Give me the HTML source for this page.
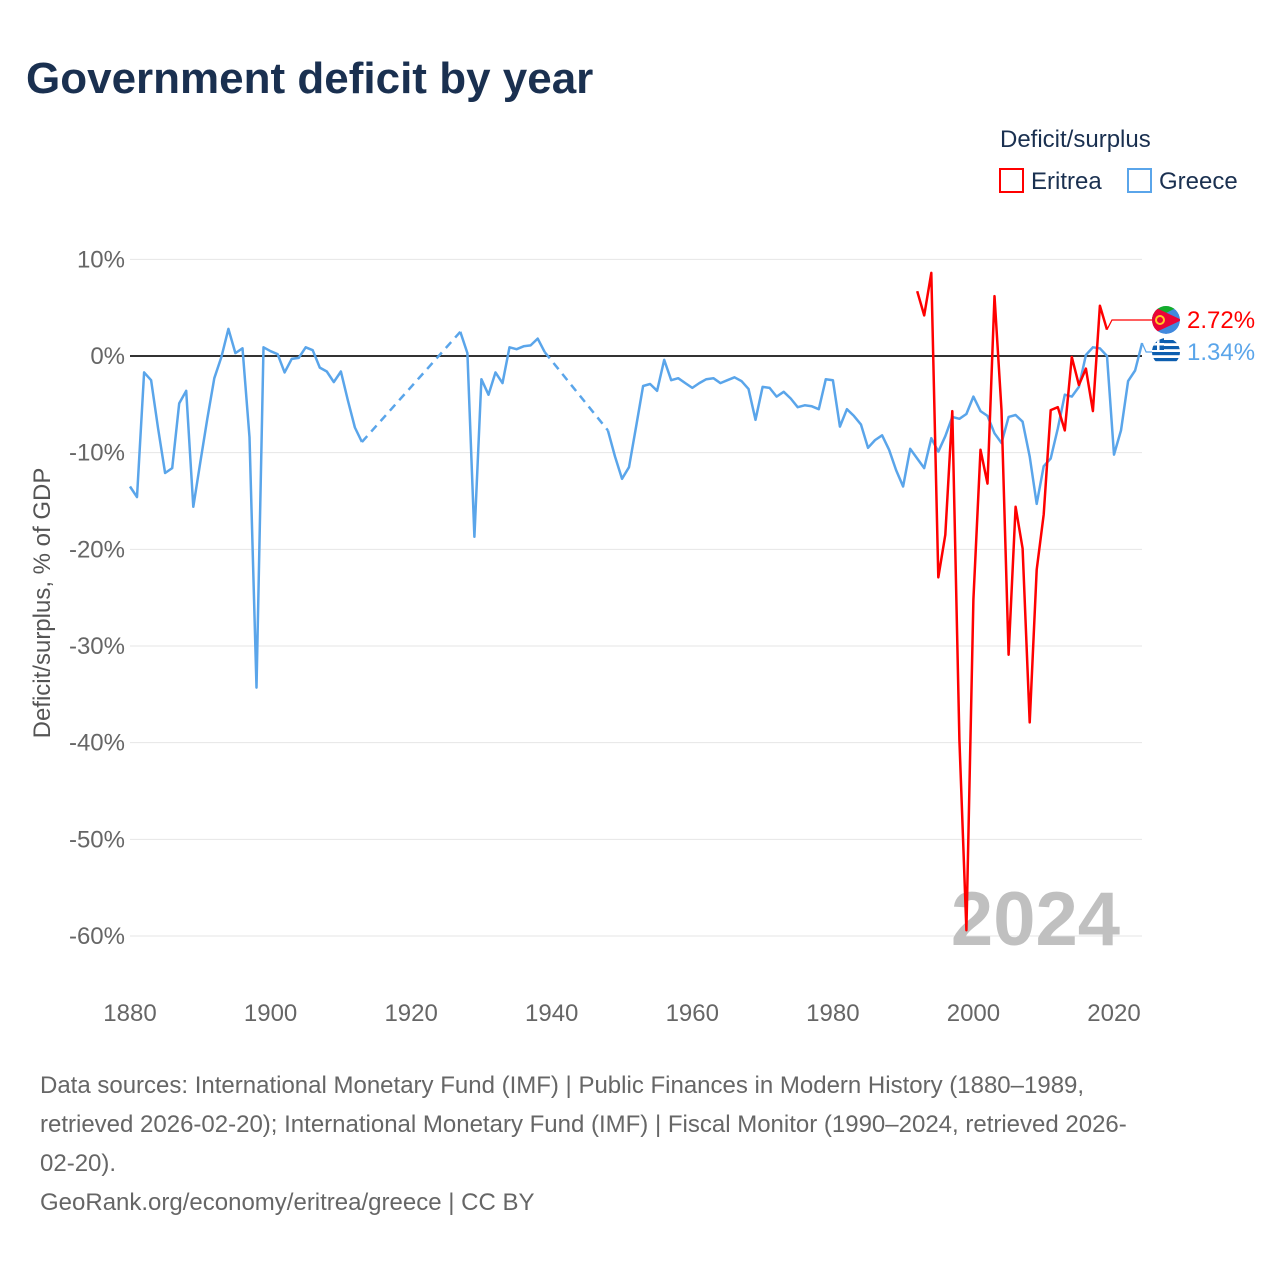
<!DOCTYPE html>
<html><head><meta charset="utf-8">
<style>
body{margin:0;background:#fff;font-family:"Liberation Sans",sans-serif;}
#wrap{position:relative;width:1280px;height:1280px;overflow:hidden;}
</style></head>
<body>
<div id="wrap">
<svg id="chart" width="1280" height="1280" xmlns="http://www.w3.org/2000/svg">
  <defs>
    <clipPath id="clipE"><circle cx="1166" cy="320" r="14"/></clipPath>
    <clipPath id="clipG"><circle cx="1166" cy="352" r="14"/></clipPath>
  </defs>
  <text x="26" y="93" font-size="44" font-weight="bold" fill="#1a3050" font-family="Liberation Sans, sans-serif">Government deficit by year</text>
  <text x="1000" y="147" font-size="24" fill="#1a3050">Deficit/surplus</text>
  <g>
    <rect x="1000" y="169" width="23" height="23" fill="none" stroke="#ff0000" stroke-width="2"/>
    <text x="1031" y="189" font-size="24" fill="#1a3050">Eritrea</text>
  </g>
  <g>
    <rect x="1128" y="169" width="23" height="23" fill="none" stroke="#5aa5ea" stroke-width="2"/>
    <text x="1159" y="189" font-size="24" fill="#1a3050">Greece</text>
  </g>
  <g id="grid"></g>
  <g id="xaxis"></g>
  <text transform="translate(50,603) rotate(-90)" text-anchor="middle" font-size="24" fill="#555">Deficit/surplus, % of GDP</text>
  <text x="1120" y="945" text-anchor="end" font-size="76" font-weight="bold" fill="#c0c0c0">2024</text>
  <g id="series"></g>
  <g id="labels"></g>
  <text font-size="24" fill="#666">
    <tspan x="40" y="1093">Data sources: International Monetary Fund (IMF) | Public Finances in Modern History (1880–1989,</tspan>
    <tspan x="40" y="1132">retrieved 2026-02-20); International Monetary Fund (IMF) | Fiscal Monitor (1990–2024, retrieved 2026-</tspan>
    <tspan x="40" y="1171">02-20).</tspan>
    <tspan x="40" y="1210">GeoRank.org/economy/eritrea/greece | CC BY</tspan>
  </text>
</svg>
</div>
<script>
const greeceYears1 = [1880,1881,1882,1883,1884,1885,1886,1887,1888,1889,1890,1891,1892,1893,1894,1895,1896,1897,1898,1899,1900,1901,1902,1903,1904,1905,1906,1907,1908,1909,1910,1911,1912,1913];
const greeceValues1 = [-13.5,-14.6,-1.7,-2.5,-7.5,-12.1,-11.6,-4.9,-3.6,-15.6,-11,-6.5,-2.3,-0.1,2.8,0.3,0.8,-8.4,-34.3,0.9,0.5,0.2,-1.7,-0.3,-0.2,0.9,0.6,-1.2,-1.6,-2.7,-1.6,-4.6,-7.4,-8.9];
const greeceYears2 = [1927,1928,1929,1930,1931,1932,1933,1934,1935,1936,1937,1938,1939];
const greeceValues2 = [2.5,0.3,-18.7,-2.4,-4.0,-1.7,-2.8,0.9,0.7,1.0,1.1,1.8,0.4];
const greeceYears3 = [1948,1949,1950,1951,1952,1953,1954,1955,1956,1957,1958,1959,1960,1961,1962,1963,1964,1965,1966,1967,1968,1969,1970,1971,1972,1973,1974,1975,1976,1977,1978,1979,1980,1981,1982,1983,1984,1985,1986,1987,1988,1989,1990,1991,1992,1993,1994,1995,1996,1997,1998,1999,2000,2001,2002,2003,2004,2005,2006,2007,2008,2009,2010,2011,2012,2013,2014,2015,2016,2017,2018,2019,2020,2021,2022,2023,2024];
const greeceValues3 = [-7.7,-10.4,-12.7,-11.5,-7.3,-3.1,-2.9,-3.6,-0.4,-2.5,-2.3,-2.8,-3.3,-2.8,-2.4,-2.3,-2.8,-2.5,-2.2,-2.6,-3.4,-6.6,-3.2,-3.3,-4.2,-3.7,-4.4,-5.3,-5.1,-5.2,-5.5,-2.4,-2.5,-7.3,-5.5,-6.2,-7.1,-9.5,-8.7,-8.2,-9.7,-11.8,-13.5,-9.6,-10.6,-11.6,-8.5,-9.9,-8.3,-6.3,-6.5,-6.0,-4.2,-5.7,-6.2,-8.0,-9.0,-6.3,-6.1,-6.8,-10.4,-15.3,-11.4,-10.6,-7.5,-4.0,-4.2,-3.2,0.1,0.9,0.8,0.0,-10.2,-7.7,-2.6,-1.5,1.34];
const eritreaYears = [1992,1993,1994,1995,1996,1997,1998,1999,2000,2001,2002,2003,2004,2005,2006,2007,2008,2009,2010,2011,2012,2013,2014,2015,2016,2017,2018,2019];
const eritreaValues = [6.7,4.2,8.6,-22.9,-18.5,-5.7,-39.7,-59.4,-25.2,-9.7,-13.2,6.2,-5.6,-30.9,-15.6,-19.9,-37.9,-22.1,-16.4,-5.6,-5.3,-7.7,-0.1,-3.0,-1.3,-5.7,5.2,2.72];
const yTicks = [10,0,-10,-20,-30,-40,-50,-60];
const xTicks = [1880,1900,1920,1940,1960,1980,2000,2020];

const NS="http://www.w3.org/2000/svg";
const X0=130,X1=1142;
function xs(yr){return 130+(yr-1880)*(984/140);}
function ys(v){return 356-v*9.667;}
function mk(tag,attrs,parent){const e=document.createElementNS(NS,tag);for(const k in attrs)e.setAttribute(k,attrs[k]);parent.appendChild(e);return e;}
const grid=document.getElementById('grid'),xa=document.getElementById('xaxis'),ser=document.getElementById('series'),lab=document.getElementById('labels');
yTicks.forEach(t=>{
  const l=mk('line',{x1:X0,x2:X1,y1:ys(t),y2:ys(t),stroke:t===0?'#333':'#e6e6e6','stroke-width':t===0?2:1},grid);
  
  
  const tx=mk('text',{x:125,y:ys(t)+8,'text-anchor':'end','font-size':24,fill:'#666'},grid);
  tx.textContent=t+'%';
  
  
});
xTicks.forEach(t=>{
  const tx=mk('text',{x:xs(t),y:1021,'text-anchor':'middle','font-size':24,fill:'#666'},xa);
  tx.textContent=t;
  
  
});
function pts(yrs,vals){return yrs.map((y,i)=>xs(y).toFixed(1)+','+ys(vals[i]).toFixed(1)).join(' ');}
function line(yrs,vals,color,name,dash){
  const p=mk('polyline',{points:pts(yrs,vals),fill:'none',stroke:color,'stroke-width':2.5,'stroke-linejoin':'round'},ser);
  if(dash)p.setAttribute('stroke-dasharray','8,6');
  
  
}
const gC='#5aa5ea',eC='#ff0000';
line(greeceYears1,greeceValues1,gC,'greece-line');
line([greeceYears1[greeceYears1.length-1],greeceYears2[0]],[greeceValues1[greeceValues1.length-1],greeceValues2[0]],gC,'greece-gap-line',true);
line(greeceYears2,greeceValues2,gC,'greece-line');
line([greeceYears2[greeceYears2.length-1],greeceYears3[0]],[greeceValues2[greeceValues2.length-1],greeceValues3[0]],gC,'greece-gap-line',true);
line(greeceYears3,greeceValues3,gC,'greece-line');
line(eritreaYears,eritreaValues,eC,'eritrea-line');

const eLast=eritreaValues[eritreaValues.length-1],eX=xs(eritreaYears[eritreaYears.length-1]);
const gLast=greeceValues3[greeceValues3.length-1],gX=xs(greeceYears3[greeceYears3.length-1]);
const eY=320,gY=352;
let c=mk('polyline',{points:`${eX},${ys(eLast)} ${eX+5},${eY} 1152,${eY}`,fill:'none',stroke:eC,'stroke-width':1.2},lab);

c=mk('polyline',{points:`${gX},${ys(gLast)} ${gX+4},${gY} 1152,${gY}`,fill:'none',stroke:gC,'stroke-width':1.2},lab);

const ef=mk('g',{'clip-path':'url(#clipE)'},lab);

mk('circle',{cx:1166,cy:eY,r:14,fill:'#4189dd'},ef);
mk('path',{d:`M1152,${eY} L1180,${eY-14} L1152,${eY-14} Z`,fill:'#12ad2b'},ef);
mk('path',{d:`M1152,${eY-14} L1182,${eY} L1152,${eY+14} Z`,fill:'#ea0437'},ef);
mk('circle',{cx:1160,cy:eY,r:4,fill:'none',stroke:'#ffc726','stroke-width':2},ef);
const gf=mk('g',{'clip-path':'url(#clipG)'},lab);

mk('circle',{cx:1166,cy:gY,r:14,fill:'#fff'},gf);
[-12,-6,0,6].forEach(d=>mk('rect',{x:1152,y:gY+d,width:28,height:3.2,fill:'#0d5eaf'},gf));
mk('rect',{x:1152,y:gY-14,width:12,height:12,fill:'#0d5eaf'},gf);
mk('rect',{x:1157,y:gY-14,width:2.5,height:12,fill:'#fff'},gf);
mk('rect',{x:1152,y:gY-9,width:12,height:2.5,fill:'#fff'},gf);
let t=mk('text',{x:1187,y:eY+8,'font-size':24,fill:eC},lab);
t.textContent=eLast.toFixed(2)+'%';

t=mk('text',{x:1187,y:gY+8,'font-size':24,fill:gC},lab);
t.textContent=gLast.toFixed(2)+'%';

</script>
</body></html>
